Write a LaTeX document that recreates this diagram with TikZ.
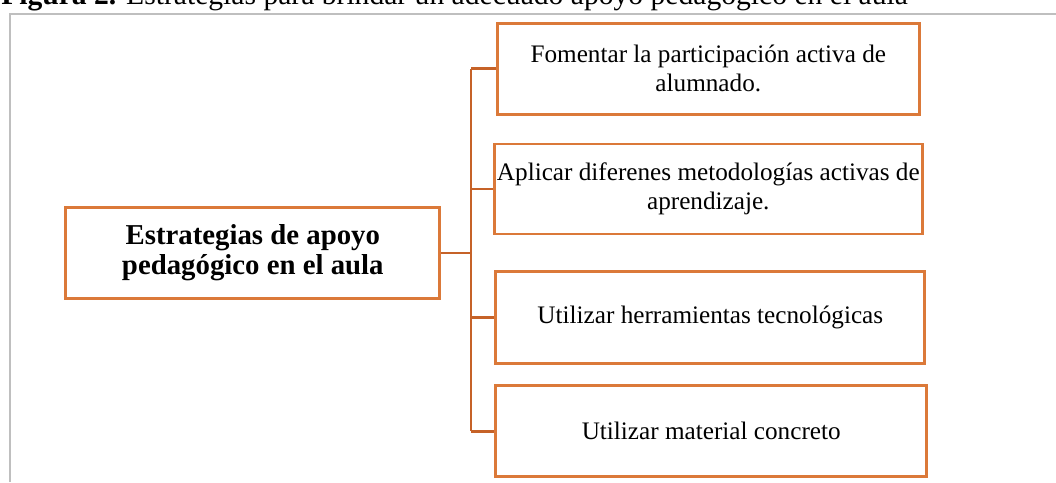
\documentclass[tikz,border=0pt]{standalone}
\usepackage{fontspec}
\setmainfont{Liberation Serif}
\usetikzlibrary{positioning}

\definecolor{naranja}{RGB}{219,121,57}
\definecolor{naranjaosc}{RGB}{198,98,40}
\definecolor{marco}{RGB}{191,191,191}

\tikzset{
  caja/.style={draw=naranja, line width=2.2pt, align=center, inner sep=2pt,
    font=\fontsize{18.9}{21.75}\selectfont},
  principal/.style={caja, font=\bfseries\fontsize{21.6}{22.5}\selectfont},
  conector/.style={draw=naranjaosc, line width=2.2pt},
}

\begin{document}
\begin{tikzpicture}[x=0.75pt, y=-0.75pt]
    \clip (0,0) rectangle (1056,482);
    \useasboundingbox (0,0) rectangle (1056,482);
    % titulo, cortado arriba
    \node[anchor=base west, inner sep=0pt, font=\fontsize{22.2}{25}\selectfont] (titulo) at (1,4)
      {\textbf{Figura 2.} Estrategias para brindar un adecuado apoyo pedag\'ogico en el aula};
    \draw[marco, line width=1.5pt] (10,482) -- (10,14) -- (1056,14);
    \begin{scope}
      \node[principal, minimum width=280.5pt, minimum height=68.5pt] at (252.8,253) (raiz)
        {Estrategias de apoyo\\pedag\'ogico en el aula};
      \node[caja, minimum width=316.5pt, minimum height=68.5pt] at (708.3,68.7) (E1)
        {Fomentar la participaci\'on activa de\\alumnado.};
      \node[caja, minimum width=318.8pt, minimum height=67.5pt] at (708.3,189) (E2)
        {Aplicar diferenes metodolog\'ias activas de\\aprendizaje.};
      \node[caja, minimum width=321.8pt, minimum height=68.8pt] at (710.3,317.5) (E3)
        {Utilizar herramientas tecnol\'ogicas};
      \node[caja, minimum width=323.3pt, minimum height=68.3pt] at (711.2,431.3) (E4)
        {Utilizar material concreto};
      \coordinate (eje) at (471,253);
      \draw[conector] (raiz.east) -- (eje);
      \draw[conector] (eje |- E1.west) -- (eje |- E4.west);
      \draw[conector] (eje |- E1.west) -- (E1.west);
      \draw[conector] (eje |- E2.west) -- (E2.west);
      \draw[conector] (eje |- E3.west) -- (E3.west);
      \draw[conector] (eje |- E4.west) -- (E4.west);
    \end{scope}
\end{tikzpicture}
\end{document}
